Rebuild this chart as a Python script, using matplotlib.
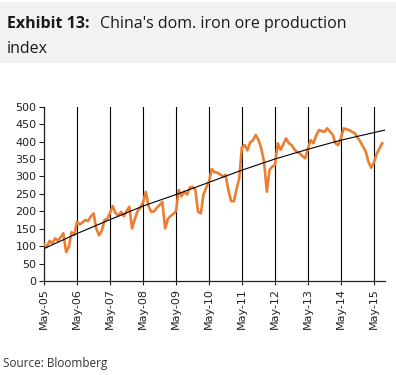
import matplotlib
matplotlib.use("Agg")
import matplotlib.pyplot as plt
import matplotlib.dates as mdates
from matplotlib.patches import Rectangle
import pandas as pd

# monthly index
months = [
    "2005-05", "2005-06", "2005-07", "2005-08", "2005-09", "2005-10", "2005-11", "2005-12",
    "2006-01", "2006-02", "2006-03", "2006-04", "2006-05", "2006-06", "2006-07", "2006-08",
    "2006-09", "2006-10", "2006-11", "2006-12", "2007-01", "2007-02", "2007-03", "2007-04",
    "2007-05", "2007-06", "2007-07", "2007-08", "2007-09", "2007-10", "2007-11", "2007-12",
    "2008-01", "2008-02", "2008-03", "2008-04", "2008-05", "2008-06", "2008-07", "2008-08",
    "2008-09", "2008-10", "2008-11", "2008-12", "2009-01", "2009-02", "2009-03", "2009-04",
    "2009-05", "2009-06", "2009-07", "2009-08", "2009-09", "2009-10", "2009-11", "2009-12",
    "2010-01", "2010-02", "2010-03", "2010-04", "2010-05", "2010-06", "2010-07", "2010-08",
    "2010-09", "2010-10", "2010-11", "2010-12", "2011-01", "2011-02", "2011-03", "2011-04",
    "2011-05", "2011-06", "2011-07", "2011-08", "2011-09", "2011-10", "2011-11", "2011-12",
    "2012-01", "2012-02", "2012-03", "2012-04", "2012-05", "2012-06", "2012-07", "2012-08",
    "2012-09", "2012-10", "2012-11", "2012-12", "2013-01", "2013-02", "2013-03", "2013-04",
    "2013-05", "2013-06", "2013-07", "2013-08", "2013-09", "2013-10", "2013-11", "2013-12",
    "2014-01", "2014-02", "2014-03", "2014-04", "2014-05", "2014-06", "2014-07", "2014-08",
    "2014-09", "2014-10", "2014-11", "2014-12", "2015-01", "2015-02", "2015-03", "2015-04",
    "2015-05", "2015-06", "2015-07", "2015-08",
]
index_vals = [
    105, 98, 115, 108, 122, 116, 125, 137,
    83, 98, 140, 132, 170, 162, 168, 175,
    172, 185, 194, 150, 131, 145, 175, 178,
    195, 215, 195, 188, 198, 186, 200, 213,
    151, 178, 200, 210, 225, 256, 215, 198,
    200, 210, 218, 227, 151, 178, 186, 192,
    200, 261, 243, 256, 248, 268, 270, 262,
    198, 194, 248, 268, 285, 321, 312, 311,
    306, 300, 304, 262, 229, 229, 262, 294,
    384, 390, 375, 398, 404, 419, 404, 380,
    342, 256, 318, 328, 333, 395, 376, 392,
    409, 395, 390, 378, 370, 366, 358, 352,
    380, 404, 395, 418, 433, 430, 428, 438,
    428, 419, 395, 390, 410, 438, 435, 433,
    428, 424, 412, 400, 385, 371, 342, 325,
    340, 365, 380, 395,
]

# trend line, read at the year ticks
trend_months = ["2005-05", "2006-05", "2007-05", "2008-05", "2009-05", "2010-05",
                "2011-05", "2012-05", "2013-05", "2014-05", "2015-09"]
trend_vals = [93, 136, 176, 215, 248, 283, 318, 350, 378, 404, 433]

tick_months = ["2005-05", "2006-05", "2007-05", "2008-05", "2009-05", "2010-05",
               "2011-05", "2012-05", "2013-05", "2014-05", "2015-05"]

dates = pd.to_datetime(months)
trend_dates = pd.to_datetime(trend_months)
ticks = pd.to_datetime(tick_months)

W, H = 396, 375
fig = plt.figure(figsize=(W / 100, H / 100), dpi=100)

# grey title band
fig.patches.append(Rectangle((0, 1 - 63 / H), 1, 61 / H, transform=fig.transFigure,
                             facecolor="#f2f2f2", edgecolor="none", zorder=0))
fig.text(7 / W, 1 - 28 / H, "Exhibit 13:", fontsize=11.5, fontweight="bold",
         family="Open Sans", color="#1a1a1a", va="baseline")
fig.text(100 / W, 1 - 28 / H, "China's dom. iron ore production", fontsize=11.5,
         family="Open Sans", color="#1a1a1a", va="baseline")
fig.text(7 / W, 1 - 53 / H, "index", fontsize=11.5,
         family="Open Sans", color="#1a1a1a", va="baseline")

ax = fig.add_axes([44 / W, 1 - 281 / H, (385 - 44) / W, (281 - 106.7) / H])

ax.plot(dates, index_vals, color="#ed7d31", lw=1.9, solid_joinstyle="round", zorder=3)
ax.plot(trend_dates, trend_vals, color="black", lw=0.8, zorder=4)

ax.set_ylim(0, 500)
ax.set_yticks(range(0, 501, 50))
ax.set_xlim(pd.Timestamp("2005-05-01"), pd.Timestamp("2015-09-01"))
ax.set_xticks(ticks)
ax.xaxis.set_major_formatter(mdates.DateFormatter("%b-%y"))

for s in ["top", "right"]:
    ax.spines[s].set_visible(False)
for s in ["left", "bottom"]:
    ax.spines[s].set_color("#222222")
    ax.spines[s].set_linewidth(0.9)

ax.grid(axis="x", color="black", lw=0.8)
ax.set_axisbelow(True)
ax.tick_params(axis="y", direction="out", length=3.5, width=0.8, pad=2,
               labelsize=8, colors="#222222")
ax.tick_params(axis="x", direction="out", length=3, width=0.8, pad=2,
               labelsize=8, colors="#222222", labelrotation=90)
for lab in ax.get_xticklabels() + ax.get_yticklabels():
    lab.set_family("Liberation Sans Narrow")

fig.text(3 / W, 1 - 367 / H, "Source: Bloomberg", fontsize=8.5, family="Open Sans",
         color="#333333", va="baseline")

fig.savefig("out.png", dpi=100)
